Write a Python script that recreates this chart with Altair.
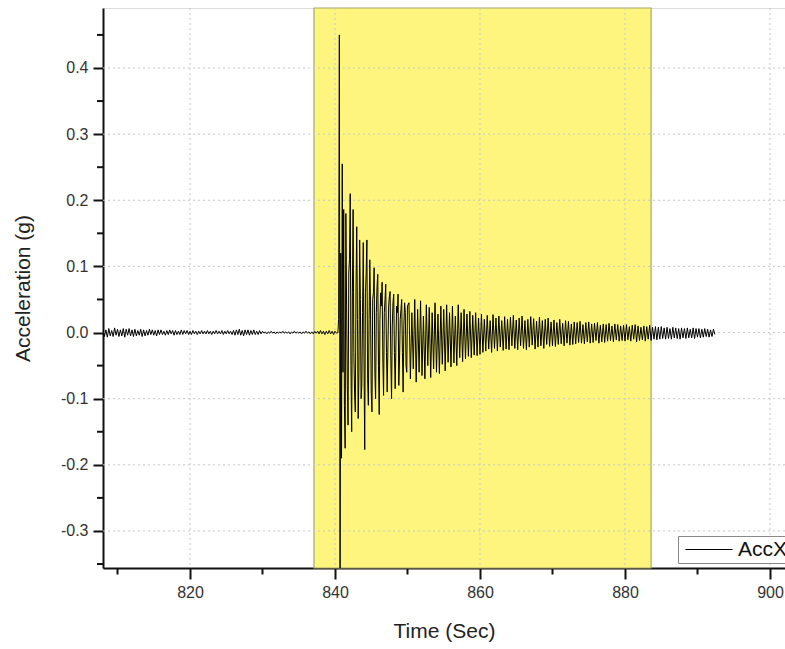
import altair as alt
import pandas as pd

# ---------------- data (acceleration in milli-g) ----------------
# quiet record before the event: 808.0 s .. 840.4 s, every 0.2 s
pre_start, pre_step = 808.0, 0.2
pre_event = [
    5, -6, 4, -7, 6, -5, 3, -6, 7, -4, 5, -6, 4, -5, 6, -7, 5, -4, 6, -5, 4, -6, 5, -5, 3, -4, 5, -6, 4, -5, 3, -4, 5, -3, 4,
    -4, 3, -5, 4, -3, 4, -3, 2, -4, 3, -3, 4, -2, 3, -4, 3, -3, 2, -3, 4, -3, 3, -2, 3, -3, 2, -3, 3, -2, 2, -3, 2, -2, 3, -2,
    2, -2, 3, -2, 2, -3, 2, -2, 3, -2, 2, -2, 3, -3, 2, -2, 3, -2, 2, -3,
    3, -4, 4, -3, 5, -4, 3, -5, 4, -3, 4, -4, 3, -3, 4, -3, 2, -3, 3, -2,
    2, -1, 1, -2, 1, -1, 2, -1, 1, -2, 1, -1, 1, -1, 2, -1, 1, -1, 1, -2, 1, -1, 2, -1, 1, -1, 1, -2, 1, -1, 2, -1, 1, -2, 1,
    -2, 2, -1, 2, -2, 3, -2, 2, -3, 2, -2, 3, -2, 2, -3, 2, -1, 0,
]
# strong motion: 840.5 s .. 850.0 s, every 0.1 s
event_start, event_step = 840.5, 0.1
event = [
    20, 450, -400, 120, -190, 255, -60, 186, -110, -175,
    180, 40, -80, -140, 90, 110, 210, -50, -150, 60,
    186, -30, -90, -120, 70, 160, 20, -130, -60, 140,
    50, -100, -80, 30, 136, -40, -177, 60, 90, 140,
    -70, -110, 20, 110, 40, -90, -120, 50, 60, 98,
    -60, -100, 30, 70, 88, -50, -124, 20, 60, 40,
    76, -40, -95, 30, 50, 73, -30, -90, -20, 40,
    55, 62, -40, -100, 10, 45, 58, -30, -85, -20,
    40, 30, 58, -80, -40, 20, 35, 50, -30, -90,
    10, 45, 30, -50, -60, 40,
]
# free decay: 850.2 s .. 892.4 s, every 0.2 s
decay_start, decay_step = 850.2, 0.2
decay = [
    45, -70, 30, -55, 50, -75, 35, -60, 48, -65, 25, -70, 42, -50, 38, -68, 30, -55, 45, -60, 28, -62, 40, -48, 35,
    -58, 42, -45, 30, -52, 40, -46, 25, -50, 42, -38, 30, -44, 35, -40, 28, -36, 32, -38, 26, -34, 30, -35, 22, -33,
    28, -30, 20, -28, 26, -25, 18, -30, 27, -24, 22, -28, 25, -22, 18, -27, 24, -25, 20, -26, 23, -20, 26, -24, 19,
    -26, 22, -20, 25, -24, 18, -26, 20, -22, 24, -19, 21, -25, 17, -22, 23, -20, 18, -24, 20, -18, 22, -21, 16, -20,
    19, -21, 15, -18, 20, -17, 14, -20, 18, -16, 17, -19, 13, -18, 16, -17, 15, -15, 17, -16, 12, -17, 15, -14, 16,
    -16, 13, -15, 14, -12, 15, -16, 11, -14, 13, -15, 12, -13, 14, -12, 10, -14, 13, -11, 12, -13, 10, -12, 11, -13,
    12, -11, 9, -13, 11, -10, 12, -14, 10, -12, 8, -11, 10, -13, 9, -10, 11, -12, 8, -10, 9, -11, 8, -10, 9,
    -9, 7, -10, 8, -9, 6, -10, 8, -8, 7, -9, 6, -10, 7, -8, 6, -9, 7, -8, 5, -8, 7, -9, 6, -7,
    6, -8, 5, -7, 6, -6, 5, -7, 4, -6, 5, -3,
]
series_name = "AccX"

# highlighted window (s)
window_start = [837.1]
window_end = [883.6]

x_domain = [808.0, 902.07]
y_domain = [-0.356, 0.4907]
x_ticks = [810, 820, 830, 840, 850, 860, 870, 880, 890, 900]
x_grid = [820, 840, 860, 880, 900]
y_major = [-0.3, -0.2, -0.1, 0.0, 0.1, 0.2, 0.3, 0.4]
y_minor = [-0.35, -0.25, -0.15, -0.05, 0.05, 0.15, 0.25, 0.35, 0.45]

# ---------------- tables ----------------
rows = []
for start, step, vals in [(pre_start, pre_step, pre_event),
                          (event_start, event_step, event),
                          (decay_start, decay_step, decay)]:
    for i, v in enumerate(vals):
        rows.append({"t": round(start + i * step, 3), "acc": v / 1000.0, "series": series_name})
sig = pd.DataFrame(rows)

win = pd.DataFrame({"x1": window_start, "x2": window_end,
                    "y1": [y_domain[1]], "y2": [y_domain[0]]})
xg = pd.DataFrame({"x": x_grid})
yg = pd.DataFrame({"y": y_major})
ym = pd.DataFrame({"y": y_minor})

FONT = "Liberation Sans"
xs = alt.Scale(domain=x_domain, nice=False, zero=False)
ys = alt.Scale(domain=y_domain, nice=False, zero=False)

x_axis = alt.Axis(
    values=x_ticks,
    labelExpr="datum.value % 20 == 0 ? datum.label : ''",
    tickSize={"condition": {"test": "datum.value % 20 == 0", "value": 11}, "value": 6},
    grid=False, title="Time (Sec)", titleFontSize=21, titleFont=FONT, titleFontWeight="normal",
    titleColor="#222222", titlePadding=20, labelFontSize=16, labelFont=FONT, labelColor="#333333",
    labelPadding=5, domainColor="#111111", domainWidth=2, tickColor="#111111", tickWidth=2,
    labelFlush=False, labelOverlap=False,
)
y_axis = alt.Axis(
    values=y_major, format=".1f", tickSize=10,
    labelExpr="replace(datum.label, '\u2212', '-')",
    grid=False, title="Acceleration (g)", titleFontSize=21, titleFont=FONT, titleFontWeight="normal",
    titleColor="#222222", titlePadding=27, labelFontSize=16, labelFont=FONT, labelColor="#333333",
    labelPadding=5, domainColor="#111111", domainWidth=2, tickColor="#111111", tickWidth=2,
    labelFlush=False, labelOverlap=False,
)

rect = alt.Chart(win).mark_rect(fill="#fdf57d", stroke="#a9a66c", strokeWidth=1.2).encode(
    x=alt.X("x1:Q", scale=xs, axis=x_axis),
    x2="x2:Q",
    y=alt.Y("y1:Q", scale=ys, axis=y_axis),
    y2="y2:Q",
)

grid_style = dict(color="#c8c8c8", strokeDash=[2, 3], strokeWidth=1)
vgrid = alt.Chart(xg).mark_rule(**grid_style).encode(x=alt.X("x:Q", scale=xs))
hgrid = alt.Chart(yg).mark_rule(**grid_style).encode(y=alt.Y("y:Q", scale=ys))

# minor ticks on the y axis (outside the plot, pointing left)
yminor = alt.Chart(ym).mark_rule(color="#111111", strokeWidth=2, clip=False).encode(
    y=alt.Y("y:Q", scale=ys),
    x=alt.value(-6),
    x2=alt.value(0),
)

line = alt.Chart(sig).mark_line(strokeWidth=1.0, clip=True, interpolate="linear").encode(
    x=alt.X("t:Q", scale=xs),
    y=alt.Y("acc:Q", scale=ys),
    color=alt.Color(
        "series:N",
        scale=alt.Scale(range=["#000000"]),
        legend=alt.Legend(
            title=None, orient="none", legendX=575, legendY=528,
            symbolType="M-1.2,0H8.2", symbolSize=100, symbolStrokeWidth=1,
            labelFontSize=21, labelFont=FONT, labelColor="#111111", labelOffset=36,
            strokeColor="#8a8a8a", fillColor="#ffffff", padding=3,
        ),
    ),
)

chart = alt.layer(rect, vgrid, hgrid, yminor, line).properties(
    width=682, height=560,
    autosize=alt.AutoSizeParams(type="none"),
    padding={"left": 103, "top": 8, "right": 0, "bottom": 81},
).configure_view(strokeWidth=0).configure(background="#ffffff")

chart.save("out.html", embed_options={"renderer": "svg", "actions": False})
